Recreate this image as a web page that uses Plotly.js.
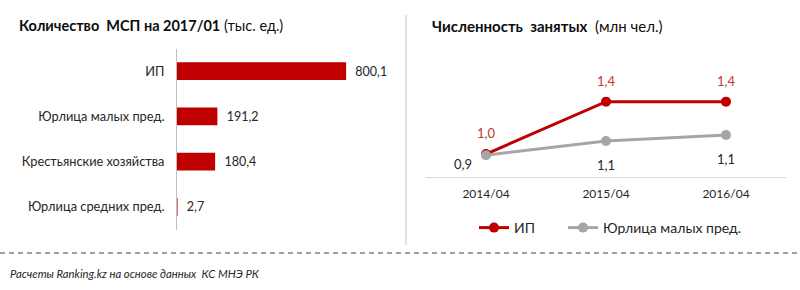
<!DOCTYPE html>
<html><head><meta charset="utf-8">
<script src="https://cdn.plot.ly/plotly-3.0.1.min.js"></script>
<style>html,body{margin:0;padding:0;background:#fff}#chart{width:800px;height:290px}</style>
</head><body><div id="chart"></div>
<script>
const categories = ['ИП', 'Юрлица малых пред.', 'Крестьянские хозяйства', 'Юрлица средних пред.'];
const counts = [800.1, 191.2, 180.4, 2.7];

const periods = ['2014/04', '2015/04', '2016/04'];
const ipEmployed = [0.96, 1.40, 1.40];
const smallEmployed = [0.95, 1.07, 1.12];
const ipLabels = ['1,0', '1,4', '1,4'];
const smallLabels = ['0,9', '1,1', '1,1'];

const seriesNames = ['ИП', 'Юрлица малых пред.'];

const FONT = 'Lato, "Open Sans", sans-serif';
const RED = '#c00000';
const GREY = '#a6a6a6';
const fmt = v => v.toFixed(1).replace('.', ',');
const W = 800, H = 290;
const px = x => x / W, py = y => 1 - y / H;

const traces = [
  {
    type: 'bar', orientation: 'h', x: counts, y: categories,
    xaxis: 'x', yaxis: 'y', width: 0.39,
    marker: {color: RED},
    text: counts.map(v => '\u2002' + fmt(v)), textposition: 'outside', cliponaxis: false,
    textfont: {family: FONT, size: 12.5, color: '#262626'},
    showlegend: false, hoverinfo: 'none'
  },
  {
    type: 'scatter', mode: 'lines+markers', name: seriesNames[0], legend: 'legend',
    x: periods, y: ipEmployed, xaxis: 'x2', yaxis: 'y2',
    line: {color: RED, width: 3}, marker: {color: RED, size: 10},
    cliponaxis: false, hoverinfo: 'none'
  },
  {
    type: 'scatter', mode: 'lines+markers', name: seriesNames[1], legend: 'legend2',
    x: periods, y: smallEmployed, xaxis: 'x2', yaxis: 'y2',
    line: {color: GREY, width: 3}, marker: {color: GREY, size: 10},
    cliponaxis: false, hoverinfo: 'none'
  }
];

const annotations = [
  {xref: 'paper', yref: 'paper', x: px(17), y: py(26), xanchor: 'left', yanchor: 'middle', showarrow: false,
   text: '<b>Количество  МСП на 2017/01</b> (тыс. ед.)', font: {family: FONT, size: 14.5, color: '#0d0d0d'}},
  {xref: 'paper', yref: 'paper', x: px(430), y: py(26), xanchor: 'left', yanchor: 'middle', showarrow: false,
   text: '<b>Численность  занятых</b>  (млн чел.)', font: {family: FONT, size: 15, color: '#0d0d0d'}},
  {xref: 'paper', yref: 'paper', x: px(8), y: py(273), xanchor: 'left', yanchor: 'middle', showarrow: false,
   text: '<i>Расчеты Ranking.kz на основе данных  КС МНЭ РК</i>', font: {family: FONT, size: 11.3, color: '#262626'}}
];
periods.forEach((p, i) => {
  annotations.push({xref: 'x2', yref: 'y2', x: p, y: ipEmployed[i], yshift: 21, showarrow: false,
    text: ipLabels[i], font: {family: FONT, size: 13, color: '#c0392b'}});
  annotations.push({xref: 'x2', yref: 'y2', x: p, y: smallEmployed[i],
    yshift: i === 0 ? -9 : -24, xshift: i === 0 ? -23 : 0, showarrow: false,
    text: smallLabels[i], font: {family: FONT, size: 13, color: '#262626'}});
});

const legendStyle = {orientation: 'h', y: py(228), xanchor: 'left', yanchor: 'middle',
  font: {family: FONT, size: 14, color: '#262626'}, bgcolor: 'rgba(0,0,0,0)'};

const layout = {
  width: W, height: H, margin: {l: 0, r: 0, t: 0, b: 0},
  paper_bgcolor: '#fff', plot_bgcolor: 'rgba(0,0,0,0)',
  font: {family: FONT, size: 11, color: '#262626'},
  xaxis: {domain: [px(177), px(400)], range: [0, 1055], visible: false, fixedrange: true},
  yaxis: {domain: [py(229.5), py(48.5)], type: 'category', range: [3.5, -0.5],
          showline: true, linecolor: '#bfbfbf', linewidth: 1, showgrid: false, zeroline: false,
          ticks: '', ticklabelstandoff: 9, tickfont: {family: FONT, size: 12.8, color: '#262626'}, fixedrange: true},
  xaxis2: {domain: [px(426), px(786)], type: 'category', range: [-0.5, 2.5], anchor: 'y2',
           showline: true, linecolor: '#d9d9d9', linewidth: 1, showgrid: false, ticks: '',
           tickfont: {family: FONT, size: 12, color: '#262626'}, ticklabelstandoff: 6, fixedrange: true},
  yaxis2: {domain: [py(177), py(60)], range: [0.767, 1.75], anchor: 'x2', visible: false, fixedrange: true},
  showlegend: true,
  legend: Object.assign({x: px(474)}, legendStyle),
  legend2: Object.assign({x: px(563)}, legendStyle),
  annotations: annotations,
  shapes: [
    {type: 'line', xref: 'paper', yref: 'paper', x0: px(406), x1: px(406), y0: py(15), y1: py(245),
     line: {color: '#d9d9d9', width: 1.5}},
    {type: 'line', xref: 'paper', yref: 'paper', x0: 0, x1: 1, y0: py(253), y1: py(253),
     line: {color: '#404040', width: 1, dash: '5px,4px'}}
  ]
};

Plotly.newPlot('chart', traces, layout, {displayModeBar: false, staticPlot: true});
</script></body></html>
